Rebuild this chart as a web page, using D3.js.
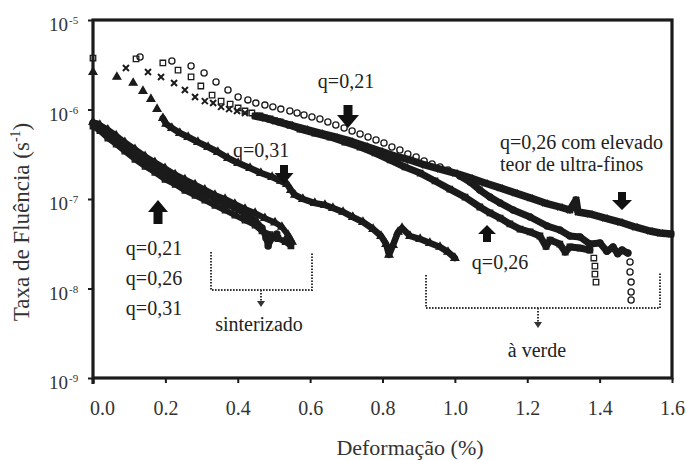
<!DOCTYPE html>
<html>
<head>
<meta charset="utf-8">
<script src="https://cdn.jsdelivr.net/npm/d3@7"></script>
<style>
  body { margin: 0; background: #fff; }
</style>
</head>
<body>
<svg id="chart" width="686" height="460" font-family="'Liberation Serif', Tinos, 'Times New Roman', 'DejaVu Serif', serif"></svg>
<script>
// Creep rate (s^-1) versus strain (%)

// sintered specimens
const sint21X = [0, 0.011, 0.022, 0.033, 0.047, 0.064, 0.080, 0.102, 0.124, 0.146, 0.171, 0.199, 0.227, 0.254, 0.282, 0.309, 0.337, 0.365, 0.392, 0.420, 0.448, 0.467, 0.478, 0.484, 0.495, 0.508];
const sint21Y = [7.07e-7, 6.89e-7, 6.38e-7, 5.90e-7, 5.32e-7, 4.68e-7, 4.12e-7, 3.53e-7, 3.02e-7, 2.66e-7, 2.28e-7, 1.95e-7, 1.67e-7, 1.47e-7, 1.26e-7, 1.14e-7, 1.00e-7, 8.79e-8, 7.93e-8, 6.80e-8, 5.83e-8, 4.74e-8, 3.67e-8, 2.99e-8, 3.67e-8, 4.06e-8];

const sint26X = [0, 0.019, 0.041, 0.064, 0.088, 0.116, 0.144, 0.171, 0.199, 0.227, 0.254, 0.282, 0.309, 0.337, 0.365, 0.392, 0.420, 0.448, 0.467, 0.489, 0.511, 0.531, 0.547];
const sint26Y = [6.54e-7, 5.80e-7, 4.80e-7, 4.10e-7, 3.42e-7, 2.78e-7, 2.32e-7, 1.99e-7, 1.66e-7, 1.46e-7, 1.25e-7, 1.10e-7, 9.70e-8, 8.50e-8, 7.50e-8, 6.60e-8, 5.80e-8, 5.10e-8, 4.40e-8, 4.00e-8, 3.62e-8, 3.35e-8, 2.99e-8];

const sint31X = [0, 0.019, 0.041, 0.064, 0.088, 0.116, 0.144, 0.171, 0.199, 0.227, 0.254, 0.282, 0.309, 0.337, 0.365, 0.392, 0.420, 0.448, 0.475, 0.503, 0.522, 0.539, 0.550];
const sint31Y = [7.25e-7, 6.70e-7, 5.95e-7, 5.12e-7, 4.30e-7, 3.60e-7, 3.00e-7, 2.57e-7, 2.20e-7, 1.88e-7, 1.65e-7, 1.45e-7, 1.27e-7, 1.11e-7, 1.00e-7, 8.80e-8, 7.75e-8, 6.95e-8, 6.10e-8, 5.45e-8, 4.87e-8, 3.96e-8, 3.31e-8];

// green (unsintered) specimens
const verde21X = [0.130, 0.218, 0.271, 0.307, 0.340, 0.373, 0.401, 0.428, 0.450, 0.475, 0.497, 0.519, 0.544, 0.564, 0.583, 0.605, 0.627, 0.649, 0.671, 0.694, 0.716, 0.738, 0.760, 0.782, 0.804, 0.826, 0.848, 0.870, 0.893, 0.915, 0.937, 0.959, 0.981, 1.014, 1.042, 1.069, 1.097, 1.125, 1.161, 1.208, 1.255, 1.290, 1.318, 1.346, 1.373, 1.401, 1.420, 1.437, 1.450, 1.462, 1.478, 1.484, 1.484, 1.487, 1.487, 1.487];
const verde21Y = [3.86e-6, 3.48e-6, 3.06e-6, 2.56e-6, 2.03e-6, 1.65e-6, 1.38e-6, 1.28e-6, 1.18e-6, 1.12e-6, 1.07e-6, 1.01e-6, 9.62e-7, 9.14e-7, 8.68e-7, 8.25e-7, 7.83e-7, 7.25e-7, 6.71e-7, 6.21e-7, 5.75e-7, 5.32e-7, 4.93e-7, 4.56e-7, 4.22e-7, 3.81e-7, 3.53e-7, 3.18e-7, 2.95e-7, 2.66e-7, 2.46e-7, 2.28e-7, 2.11e-7, 1.81e-7, 1.55e-7, 1.26e-7, 1.05e-7, 9.02e-8, 7.54e-8, 6.29e-8, 4.99e-8, 4.50e-8, 3.86e-8, 3.76e-8, 3.14e-8, 3.22e-8, 2.60e-8, 2.91e-8, 2.45e-8, 2.69e-8, 2.49e-8, 1.98e-8, 1.53e-8, 1.18e-8, 9.14e-9, 7.44e-9];

const verde26X = [0, 0.119, 0.193, 0.235, 0.271, 0.298, 0.329, 0.354, 0.379, 0.401, 0.420, 0.439, 0.461, 0.489, 0.517, 0.544, 0.572, 0.613, 0.655, 0.696, 0.738, 0.779, 0.821, 0.862, 0.904, 0.945, 0.986, 1.028, 1.069, 1.097, 1.125, 1.152, 1.180, 1.208, 1.235, 1.252, 1.263, 1.290, 1.305, 1.318, 1.346, 1.373, 1.384, 1.387, 1.387, 1.390];
const verde26Y = [3.76e-6, 3.67e-6, 3.31e-6, 2.76e-6, 2.31e-6, 1.83e-6, 1.45e-6, 1.24e-6, 1.15e-6, 1.04e-6, 9.62e-7, 9.14e-7, 8.46e-7, 7.83e-7, 7.25e-7, 6.71e-7, 6.05e-7, 5.46e-7, 4.93e-7, 4.33e-7, 3.81e-7, 3.27e-7, 2.73e-7, 2.28e-7, 1.95e-7, 1.59e-7, 1.29e-7, 1.05e-7, 8.14e-8, 6.98e-8, 6.13e-8, 5.26e-8, 4.62e-8, 4.28e-8, 3.86e-8, 2.95e-8, 3.48e-8, 3.14e-8, 2.55e-8, 2.91e-8, 2.83e-8, 2.69e-8, 2.19e-8, 1.78e-8, 1.45e-8, 1.18e-8];

// q = 0,26 with high ultra-fine content
const ultraFinoX = [0.091, 0.152, 0.188, 0.224, 0.254, 0.282, 0.309, 0.332, 0.354, 0.376, 0.398, 0.420, 0.448, 0.475, 0.503, 0.544, 0.586, 0.627, 0.669, 0.710, 0.752, 0.793, 0.834, 0.876, 0.917, 0.959, 1.000, 1.042, 1.083, 1.125, 1.166, 1.208, 1.249, 1.290, 1.318, 1.335, 1.340, 1.373, 1.415, 1.456, 1.498, 1.539, 1.567, 1.597];
const ultraFinoY = [2.91e-6, 2.62e-6, 2.31e-6, 1.98e-6, 1.65e-6, 1.38e-6, 1.24e-6, 1.18e-6, 1.07e-6, 1.01e-6, 9.62e-7, 9.14e-7, 8.46e-7, 8.04e-7, 7.44e-7, 6.71e-7, 6.05e-7, 5.46e-7, 4.93e-7, 4.45e-7, 3.91e-7, 3.44e-7, 3.02e-7, 2.73e-7, 2.40e-7, 2.16e-7, 1.95e-7, 1.72e-7, 1.51e-7, 1.33e-7, 1.17e-7, 1.03e-7, 9.02e-8, 8.14e-8, 7.54e-8, 9.74e-8, 7.16e-8, 6.80e-8, 6.13e-8, 5.53e-8, 4.87e-8, 4.39e-8, 4.17e-8, 4.06e-8];

const verde31X = [0, 0.066, 0.111, 0.138, 0.160, 0.177, 0.193, 0.202, 0.218, 0.240, 0.263, 0.290, 0.318, 0.345, 0.373, 0.401, 0.434, 0.464, 0.495, 0.519, 0.536, 0.547, 0.558, 0.580, 0.613, 0.641, 0.663, 0.691, 0.718, 0.746, 0.774, 0.796, 0.810, 0.818, 0.829, 0.843, 0.854, 0.876, 0.904, 0.931, 0.959, 0.981, 1.000];
const verde31Y = [2.62e-6, 2.31e-6, 1.98e-6, 1.61e-6, 1.31e-6, 1.01e-6, 8.0e-7, 6.9e-7, 6.2e-7, 5.46e-7, 4.93e-7, 4.33e-7, 3.81e-7, 3.35e-7, 2.87e-7, 2.52e-7, 2.22e-7, 1.95e-7, 1.76e-7, 1.59e-7, 1.47e-7, 1.26e-7, 1.11e-7, 1.0e-7, 9.0e-8, 8.57e-8, 7.93e-8, 7.16e-8, 6.29e-8, 5.53e-8, 4.62e-8, 3.86e-8, 3.14e-8, 2.37e-8, 3.06e-8, 4.28e-8, 4.74e-8, 3.86e-8, 3.57e-8, 3.22e-8, 2.91e-8, 2.56e-8, 2.19e-8];

// axis ticks
const xTicks = [0, 0.2, 0.4, 0.6, 0.8, 1.0, 1.2, 1.4, 1.6];
const yTicks = [1e-9, 1e-8, 1e-7, 1e-6, 1e-5];
const yTickExp = ["-9", "-8", "-7", "-6", "-5"];

// series: marker shape, index range drawn as a dense band, band width
const series = [
  { xs: sint21X, ys: sint21Y, marker: "circle", band: [0, 25], w: 6 },
  { xs: sint26X, ys: sint26Y, marker: "square", band: [0, 22], w: 6 },
  { xs: sint31X, ys: sint31Y, marker: "triangle", band: [0, 22], w: 6 },
  { xs: verde31X, ys: verde31Y, marker: "triangle", band: [6, 42], w: 6.5 },
  { xs: verde26X, ys: verde26Y, marker: "square", band: [12, 41], w: 7 },
  { xs: ultraFinoX, ys: ultraFinoY, marker: "cross", band: [12, 43], w: 7.5 },
  { xs: verde21X, ys: verde21Y, marker: "circle", band: [33, 50], w: 7 }
];

const FONT = "'Liberation Serif', Tinos, 'Times New Roman', 'DejaVu Serif', serif";
const svg = d3.select("#chart");
const mLeft = 93, mRight = 672, mTop = 20, mBottom = 378;
const x = d3.scaleLinear().domain([0, 1.6]).range([mLeft, mRight]);
const y = d3.scaleLog().domain([1e-9, 1e-5]).range([mBottom, mTop]);
const ink = "#1b1b1b";

// axes
const xAxis = svg.append("g").attr("transform", `translate(0,${mBottom})`)
  .call(d3.axisBottom(x).tickValues(xTicks).tickSize(5).tickFormat(d3.format(".1f")));
xAxis.attr("font-family", FONT);
xAxis.select(".domain").remove();
xAxis.selectAll("line").attr("stroke", ink).attr("stroke-width", 2);
xAxis.selectAll("text").attr("y", 37).attr("dy", 0)
  .attr("x", d => d === 0 ? 9 : 0)
  .attr("font-size", 20).attr("fill", "#333");

const yAxis = svg.append("g").attr("transform", `translate(${mLeft},0)`)
  .call(d3.axisLeft(y).tickValues(yTicks).tickSize(5).tickFormat(""));
yAxis.select(".domain").remove();
yAxis.selectAll("line").attr("stroke", ink).attr("stroke-width", 2);

const yLab = svg.append("g").attr("font-family", FONT).attr("fill", "#333");
yTicks.forEach((v, i) => {
  yLab.append("text").attr("x", 68).attr("y", y(v) + 11).attr("text-anchor", "end")
    .attr("font-size", 19).text("10");
  yLab.append("text").attr("x", 69).attr("y", y(v) + 4)
    .attr("font-size", 11).text(yTickExp[i]);
});

// frame
svg.append("rect").attr("x", mLeft).attr("y", mTop).attr("width", mRight - mLeft).attr("height", mBottom - mTop)
  .attr("fill", "none").attr("stroke", ink).attr("stroke-width", 3.2);
svg.append("line").attr("x1", mLeft).attr("x2", mLeft).attr("y1", mBottom).attr("y2", mBottom + 6)
  .attr("stroke", ink).attr("stroke-width", 3.2);

// axis titles
svg.append("text").attr("transform", "translate(29,222) rotate(-90)").attr("text-anchor", "middle")
  .attr("font-family", FONT).attr("font-size", 23).attr("fill", "#333")
  .call(t => {
    t.append("tspan").text("Taxa de Fluência (s");
    t.append("tspan").attr("dy", -9).attr("font-size", 14).text("-1");
    t.append("tspan").attr("dy", 9).text(")");
  });
svg.append("text").attr("x", 410).attr("y", 455).attr("text-anchor", "middle")
  .attr("font-family", FONT).attr("font-size", 22).attr("fill", "#333").text("Deformação (%)");

// data
const plot = svg.append("g");
const line = d3.line().x(d => x(d[0])).y(d => y(d[1]));

function markerPath(type) {
  if (type === "circle") return d3.symbol(d3.symbolCircle, 30)();
  if (type === "square") return d3.symbol(d3.symbolSquare, 30)();
  if (type === "triangle") return d3.symbol(d3.symbolTriangle, 26)();
  return "M-3,-3L3,3M-3,3L3,-3";
}

series.forEach(s => {
  const pts = s.xs.map((v, i) => [v, s.ys[i]]);
  const bandPts = pts.slice(s.band[0], s.band[1] + 1);
  plot.append("path").attr("d", line(bandPts)).attr("fill", "none")
    .attr("stroke", ink).attr("stroke-width", s.w).attr("stroke-linejoin", "round").attr("stroke-linecap", "round");
  plot.append("g").selectAll("path").data(pts).join("path")
    .attr("transform", d => `translate(${x(d[0])},${y(d[1])})`)
    .attr("d", markerPath(s.marker))
    .attr("fill", s.marker === "triangle" ? ink : "none")
    .attr("stroke", ink)
    .attr("stroke-width", s.marker === "cross" ? 2 : 1.3);
});

// annotations
const notes = svg.append("g").attr("font-family", FONT);
function blockArrow(cx, yTail, yTip, headW, shaftW, headLen) {
  const dir = yTip > yTail ? 1 : -1;
  const yh = yTip - dir * headLen;
  const p = [[cx - shaftW / 2, yTail], [cx + shaftW / 2, yTail], [cx + shaftW / 2, yh], [cx + headW / 2, yh],
             [cx, yTip], [cx - headW / 2, yh], [cx - shaftW / 2, yh]];
  notes.append("path").attr("d", "M" + p.join("L") + "Z").attr("fill", "#111");
}
function label(tx, ty, str, anchor) {
  notes.append("text").attr("x", tx).attr("y", ty).attr("text-anchor", anchor || "start")
    .attr("font-size", 20).attr("fill", "#222").text(str);
}

label(346, 88, "q=0,21", "middle");
blockArrow(348, 105, 128, 22, 9, 13);

label(233, 157, "q=0,31");
blockArrow(284, 165, 184, 19, 8, 11);

label(500, 149, "q=0,26 com elevado");
label(500, 171, "teor de ultra-finos");
blockArrow(622, 192, 210, 20, 8, 10);

blockArrow(158, 224, 200, 20, 9, 12);
label(154, 255, "q=0,21", "middle");
label(154, 285, "q=0,26", "middle");
label(154, 315, "q=0,31", "middle");

blockArrow(487, 242, 225, 18, 8, 9);
label(500, 269, "q=0,26", "middle");

// dotted brackets
const dot = { stroke: "#333", width: 2, dash: "1.6,1.4" };
function dotted(d) {
  notes.append("path").attr("d", d).attr("fill", "none").attr("stroke", dot.stroke)
    .attr("stroke-width", dot.width).attr("stroke-dasharray", dot.dash);
}
function smallHead(cx, yTip) {
  notes.append("path").attr("d", `M${cx - 4},${yTip - 6}L${cx + 4},${yTip - 6}L${cx},${yTip}Z`).attr("fill", "#333");
}
dotted("M211,252L211,290L312,290L312,252");
dotted("M261,290L261,302");
smallHead(261, 307);
label(259, 331, "sinterizado", "middle");

dotted("M426,275L426,308L660,308L660,272");
dotted("M538,308L538,323");
smallHead(538, 328);
label(537, 357, "à verde", "middle");
</script>
</body>
</html>
